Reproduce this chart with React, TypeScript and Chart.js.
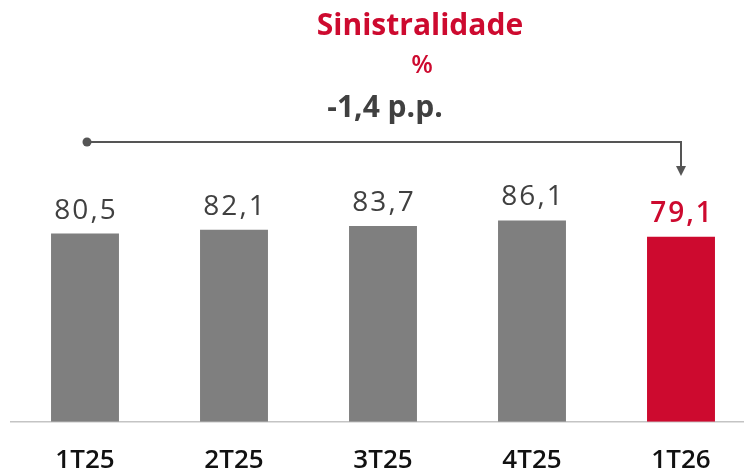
import React, { useEffect, useRef } from "react";
import { Chart, registerables } from "chart.js";

Chart.register(...registerables);

const categories = ["1T25", "2T25", "3T25", "4T25", "1T26"];
const values = [80.5, 82.1, 83.7, 86.1, 79.1];
const valueLabels = ["80,5", "82,1", "83,7", "86,1", "79,1"];
const titleText = "Sinistralidade";
const unitText = "%";
const changeText = "-1,4 p.p.";

const RED = "#CD0A2F";
const GRAY = "#7F7F7F";
const DARK = "#404040";
const FONT = "'Open Sans', 'DejaVu Sans', sans-serif";

const overlayPlugin = {
  id: "overlay",
  afterDatasetsDraw(chart: any) {
    const ctx = chart.ctx;
    const meta = chart.getDatasetMeta(0);
    const bars = meta.data;
    ctx.save();
    // value labels
    ctx.textAlign = "center";
    ctx.textBaseline = "alphabetic";
    ctx.font = `400 28px ${FONT}`;
    try { (ctx as any).letterSpacing = "2px"; } catch (e) {}
    bars.forEach((b: any, i: number) => {
      ctx.fillStyle = i === bars.length - 1 ? RED : DARK;
      if (i === bars.length - 1) ctx.font = `600 28px ${FONT}`;
      ctx.fillText(valueLabels[i], b.x + 1, b.y - 15);
    });
    try { (ctx as any).letterSpacing = "0px"; } catch (e) {}

    // bracket
    const x0 = bars[0].x + 2;
    const x1 = bars[bars.length - 1].x;
    const yL = 142;
    ctx.strokeStyle = "#555555";
    ctx.fillStyle = "#555555";
    ctx.lineWidth = 2;
    ctx.beginPath();
    ctx.moveTo(x0, yL);
    ctx.lineTo(x1, yL);
    ctx.lineTo(x1, 168);
    ctx.stroke();
    ctx.beginPath();
    ctx.arc(x0, yL, 4.5, 0, Math.PI * 2);
    ctx.fill();
    ctx.beginPath();
    ctx.moveTo(x1 - 5, 166);
    ctx.lineTo(x1 + 5, 166);
    ctx.lineTo(x1, 176);
    ctx.closePath();
    ctx.fill();

    // change label
    ctx.fillStyle = DARK;
    ctx.font = `700 30px ${FONT}`;
    ctx.fillText(changeText, (x0 + x1) / 2 + 1, 117);

    // title
    ctx.fillStyle = RED;
    ctx.font = `700 30px ${FONT}`;
    ctx.fillText(titleText, 420, 35);
    ctx.font = `600 25px ${FONT}`;
    ctx.fillText(unitText, 422, 73);
    ctx.restore();
  },
};

export default function App() {
  const ref = useRef<HTMLCanvasElement | null>(null);
  useEffect(() => {
    if (!ref.current) return;
    const chart = new Chart(ref.current, {
      type: "bar",
      data: {
        labels: categories,
        datasets: [
          {
            data: values,
            backgroundColor: values.map((_, i) => (i === values.length - 1 ? RED : GRAY)),
            barPercentage: 0.456,
            categoryPercentage: 1,
          },
        ],
      },
      options: {
        responsive: false,
        animation: false,
        layout: { padding: { top: 188, left: 10.5, right: 4.5, bottom: -25 } },
        plugins: { legend: { display: false }, tooltip: { enabled: false }, title: { display: false } },
        scales: {
          x: {
            grid: { display: false, drawTicks: false },
            border: { display: true, color: "#C4C4C4", width: 1.5 },
            ticks: { color: "#111111", font: { family: FONT, size: 26, weight: 600 }, padding: 23 },
          },
          y: { display: false, min: 0, max: 100 },
        },
      },
      plugins: [overlayPlugin],
    });
    return () => chart.destroy();
  }, []);
  return (
    <div style={{ position: "fixed", left: 0, top: 0, width: 760, height: 474 }}>
      <canvas ref={ref} width={760} height={474} />
    </div>
  );
}
